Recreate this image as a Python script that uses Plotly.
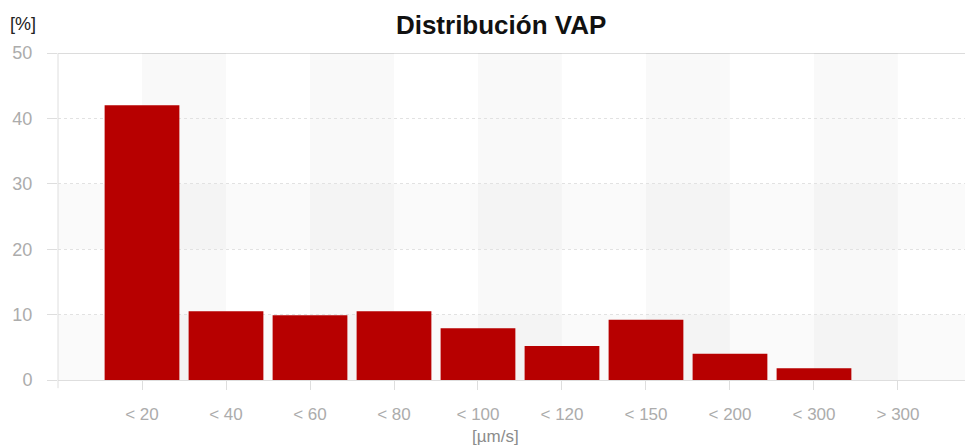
import plotly.graph_objects as go

# velocity classes and share of cells per class
categories = ["< 20", "< 40", "< 60", "< 80", "< 100", "< 120", "< 150", "< 200", "< 300", "> 300"]
percent = [42.0, 10.5, 9.9, 10.5, 7.9, 5.2, 9.2, 4.0, 1.8, 0.0]
y_ticks = [0, 10, 20, 30, 40, 50]

BAR_RED = "#b70000"
GREY_TXT = "#acacac"

fig = go.Figure()
fig.add_trace(go.Bar(x=categories, y=percent, marker_color=BAR_RED, width=0.89,
                     marker_line_width=0))

shapes = []
# light vertical stripes every other category
for i in range(0, len(categories), 2):
    shapes.append(dict(type="rect", xref="x", yref="y", x0=i, x1=i + 1, y0=0, y1=50,
                       fillcolor="rgba(0,0,0,0.022)", line_width=0, layer="below"))
# light horizontal bands
for lo in (0, 20):
    shapes.append(dict(type="rect", xref="paper", yref="y", x0=0, x1=1, y0=lo, y1=lo + 10,
                       fillcolor="rgba(0,0,0,0.02)", line_width=0, layer="below"))
# top solid line and extended y axis line
shapes.append(dict(type="line", xref="paper", yref="y", x0=0, x1=1, y0=50, y1=50,
                   line=dict(color="#dcdcdc", width=2), layer="below"))
shapes.append(dict(type="line", xref="paper", yref="paper", x0=0, x1=0, y0=-0.025, y1=1,
                   line=dict(color="#dedede", width=1), layer="below"))

# page body keeps an 8px margin, so the figure is a bit smaller than the window
fig.update_layout(
    width=965, height=439,
    margin=dict(l=50, r=0, t=45, b=67),
    paper_bgcolor="white", plot_bgcolor="white",
    showlegend=False,
    shapes=shapes,
    font=dict(family="Liberation Sans, Arial, sans-serif", size=16, color=GREY_TXT),
    title=dict(text="Distribución VAP", x=0.511, xanchor="center", y=0.962, yanchor="middle",
               font=dict(family="Liberation Sans, Arial, sans-serif", size=26, color="#111111",
                         weight="bold")),
    annotations=[
        dict(text="[%]", xref="paper", yref="paper", x=-0.055, y=1.089, xanchor="left",
             yanchor="middle", showarrow=False, font=dict(size=18, color="#222222")),
        dict(text="[µm/s]", xref="paper", yref="paper", x=0.478, y=-0.172, xanchor="center",
             yanchor="middle", showarrow=False, font=dict(size=17, color="#8c8c8c")),
    ],
)

fig.update_xaxes(range=[-1, 9.893], showgrid=False, showline=True, linecolor="#dedede",
                 linewidth=1, ticks="outside", ticklen=9, tickcolor="#dedede",
                 ticklabelstandoff=10,
                 tickfont=dict(size=17, color=GREY_TXT), fixedrange=True)
fig.update_yaxes(range=[0, 50], tickvals=y_ticks, showgrid=True, gridcolor="#e2e2e2",
                 griddash="dot", gridwidth=1, zeroline=False, showline=False,
                 ticks="outside", ticklen=10, tickcolor="#dedede",
                 ticklabelstandoff=11,
                 tickfont=dict(size=18, color=GREY_TXT), fixedrange=True)

fig.write_html("out.html")
